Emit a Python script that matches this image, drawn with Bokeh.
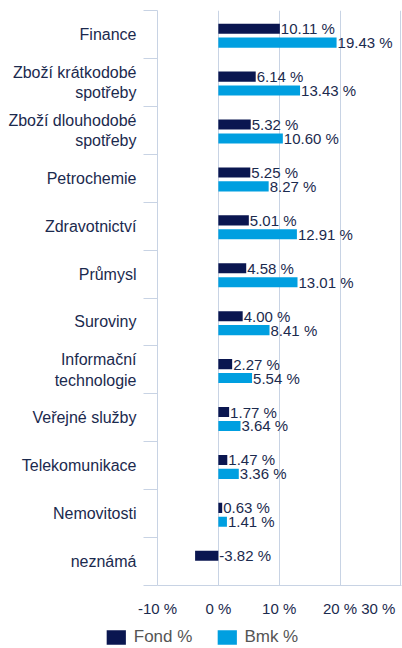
from bokeh.plotting import figure
from bokeh.layouts import column, row
from bokeh.models import (Range1d, FixedTicker, CustomJSTickFormatter, ColumnDataSource,
                          Legend, LegendItem)
from bokeh.embed import file_html
from bokeh.resources import INLINE
from bokeh.core.properties import value

categories = ["Finance", "Zboží krátkodobé\nspotřeby", "Zboží dlouhodobé\nspotřeby",
              "Petrochemie", "Zdravotnictví", "Průmysl", "Suroviny",
              "Informační\ntechnologie", "Veřejné služby", "Telekomunikace",
              "Nemovitosti", "neznámá"]
fond = [10.11, 6.14, 5.32, 5.25, 5.01, 4.58, 4.00, 2.27, 1.77, 1.47, 0.63, -3.82]
bmk = [19.43, 13.43, 10.60, 8.27, 12.91, 13.01, 8.41, 5.54, 3.64, 3.36, 1.41, None]
x_ticks = [-10, 0, 10, 20, 30]
series_names = ["Fond %", "Bmk %"]

NAVY = "#0a1650"
BLUE = "#009fe0"
GRID = "#c8d3e4"
TEXT = "#1b2a4e"
FONT = "Liberation Sans"

n = len(categories)
BAR_H = 0.21
OFF_F = -0.12
OFF_B = 0.17

def build(values, off):
    ys, xs, lx, labels = [], [], [], []
    for i, v in enumerate(values):
        if v is None:
            continue
        ys.append(i + 0.5 + off)
        xs.append(v)
        lx.append(max(v, 0))
        labels.append(f"{v:.2f} %")
    return ColumnDataSource(dict(y=ys, x=xs, lx=lx, label=labels))

src_f = build(fond, OFF_F)
src_b = build(bmk, OFF_B)

W = 402
p = figure(width=W, height=627, output_backend="svg", toolbar_location=None,
           x_range=Range1d(x_ticks[0], x_ticks[-1] + 0.1), y_range=Range1d(n, 0),
           min_border_left=157, min_border_right=1, min_border_top=10, min_border_bottom=42)
p.outline_line_color = None
p.background_fill_color = "white"
p.border_fill_color = "white"

rf = p.hbar(y="y", left=0, right="x", height=BAR_H, source=src_f, color=NAVY, line_color=None)
rb = p.hbar(y="y", left=0, right="x", height=BAR_H, source=src_b, color=BLUE, line_color=None)

for src in (src_f, src_b):
    p.text(x="lx", y="y", text="label", source=src, x_offset=1,
           text_font=value(FONT), text_font_size="15px", text_color=TEXT,
           text_align="left", text_baseline="middle")

# y axis: category labels at centres, minor ticks at category boundaries
ya = p.yaxis[0]
ya.ticker = FixedTicker(ticks=[i + 0.5 for i in range(n)], minor_ticks=list(range(n + 1)))
ya.formatter = CustomJSTickFormatter(args=dict(cats=categories),
                                     code="return cats[Math.floor(tick)] || '';")
ya.major_tick_line_color = None
ya.major_tick_out = 0
ya.major_tick_in = 0
ya.minor_tick_out = 14
ya.minor_tick_in = 0
ya.minor_tick_line_color = GRID
ya.axis_line_color = GRID
ya.major_label_standoff = 7
ya.major_label_text_font = FONT
ya.major_label_text_font_size = "16px"
ya.major_label_text_color = TEXT

# x axis: the last tick label is nudged left so that it stays inside the page
xa = p.xaxis[0]
xa.ticker = FixedTicker(ticks=x_ticks, minor_ticks=[])
xa.formatter = CustomJSTickFormatter(args=dict(last=x_ticks[-1]), code="""
return tick == last ? tick + ' %' + '\\u00a0\\u2009' : tick + ' %';
""")
xa.major_tick_line_color = None
xa.major_tick_out = 0
xa.major_tick_in = 0
xa.minor_tick_line_color = None
xa.axis_line_color = GRID
xa.major_label_standoff = 14
xa.major_label_text_font = FONT
xa.major_label_text_font_size = "15px"
xa.major_label_text_color = TEXT

p.xgrid.ticker = FixedTicker(ticks=x_ticks)
p.xgrid.grid_line_color = GRID
p.ygrid.grid_line_color = None

# legend in a slim figure underneath (its bars lie far outside its visible range)
lf = figure(width=W, height=20, output_backend="svg", toolbar_location=None,
            x_range=Range1d(-200, -199), y_range=Range1d(-200, -199),
            x_axis_location=None, y_axis_location=None, min_border=0)
lf.outline_line_color = None
lf.grid.grid_line_color = None
lrf = lf.hbar(y="y", left=0, right="x", height=BAR_H, source=src_f, color=NAVY, line_color=None)
lrb = lf.hbar(y="y", left=0, right="x", height=BAR_H, source=src_b, color=BLUE, line_color=None)
legend = Legend(items=[LegendItem(label=series_names[0], renderers=[lrf]),
                       LegendItem(label=series_names[1], renderers=[lrb])],
                orientation="horizontal", location="center",
                glyph_width=24, glyph_height=18, label_standoff=6, spacing=22,
                label_text_font=FONT, label_text_font_size="17px", label_text_color="#555555",
                border_line_color=None, background_fill_alpha=0, padding=0, margin=0)
lf.add_layout(legend)

open("out.html", "w").write(file_html(column(p, row(lf), spacing=0), INLINE))
